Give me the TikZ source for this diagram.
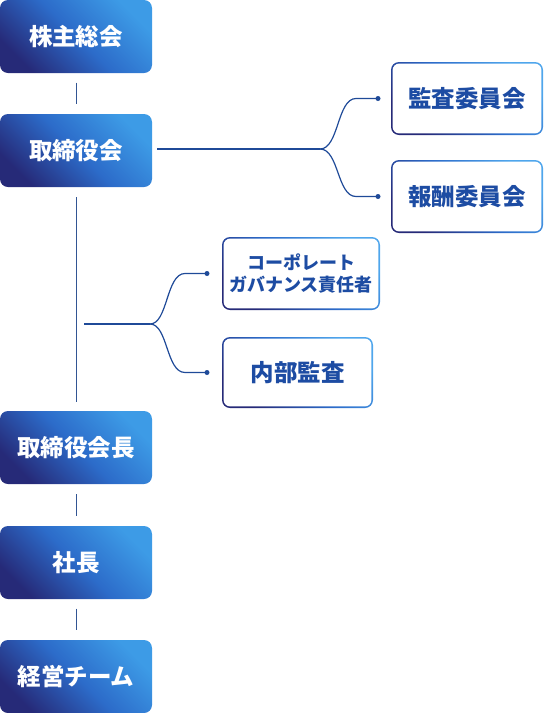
\documentclass[tikz,border=0pt]{standalone}
\usepackage{fontspec}
\newfontfamily\jp{Noto Sans CJK JP}
\definecolor{navy}{HTML}{262A78}
\definecolor{midblue}{HTML}{2C6BC9}
\definecolor{bright}{HTML}{3D9BE6}
\definecolor{lightb}{HTML}{4FA6EC}
\definecolor{linec}{HTML}{1F4A98}
\definecolor{txtb}{HTML}{1D4CA3}
\begin{document}
\begin{tikzpicture}[x=1pt,y=-1pt,
  lbox/.style={rounded corners=8pt, minimum width=152pt, minimum height=73pt,
    inner sep=0pt, left color=navy, right color=bright, middle color=midblue,
    shading angle=135, text=white, font=\jp\bfseries\fontsize{23.5}{26}\selectfont},
  rbox/.style={rounded corners=8pt, minimum height=73pt, inner sep=0pt,
    text=txtb, align=center, font=\jp\bfseries\fontsize{23.5}{26}\selectfont,
    path picture={
      \shade[left color=navy, right color=lightb, middle color=midblue, shading angle=135]
        (path picture bounding box.south west) rectangle (path picture bounding box.north east);
      \fill[white, rounded corners=6.5pt]
        ([shift={(1.6pt,-1.6pt)}]path picture bounding box.north west) rectangle
        ([shift={(-1.6pt,1.6pt)}]path picture bounding box.south east);}},
  conn/.style={draw=linec, line width=1.2pt},
  vconn/.style={draw=linec!80!gray, line width=1pt},
  dotc/.style={circle, fill=linec, inner sep=0pt, minimum size=5pt}
]
\useasboundingbox (0,0) rectangle (544,713);
% left column
\node[lbox] (b1) at (76,36.5) {株主総会};
\node[lbox] (b2) at (76,150.5) {取締役会};
\node[lbox] (b3) at (76,447.5) {取締役会長};
\node[lbox] (b4) at (76,562.5) {社長};
\node[lbox] (b5) at (76,676.5) {経営チーム};
% right column
\node[rbox, minimum width=152pt] (k1) at (467,98.5) {監査委員会};
\node[rbox, minimum width=152pt] (k2) at (467,196.5) {報酬委員会};
% middle column
\node[rbox, minimum width=158pt, font=\jp\bfseries\fontsize{18}{22}\selectfont] (c1) at (301,273.5) {コーポレート\\ガバナンス責任者};
\node[rbox, minimum width=151pt, minimum height=71pt] (c2) at (297.5,372.5) {内部監査};
% vertical connectors
\draw[vconn, shorten <=9.5pt, shorten >=9.5pt] (b1.south) -- (b2.north);
\draw[vconn, shorten <=10pt, shorten >=9pt] (b2.south) -- (b3.north);
\draw[vconn, shorten <=10pt, shorten >=10pt] (b3.south) -- (b4.north);
\draw[vconn, shorten <=9.5pt, shorten >=10pt] (b4.south) -- (b5.north);
% branch to committees
\coordinate (br1) at (320,149);
\coordinate (e1) at (378,98.5);
\coordinate (e2) at (378,196.5);
\draw[conn, shorten <=5pt] (b2.east |- br1) -- (br1);
\draw[conn] (br1) .. controls (339,149) and (337,98.5) .. (356,98.5) -- (e1);
\draw[conn] (br1) .. controls (339,149) and (337,196.5) .. (356,196.5) -- (e2);
\node[dotc] (d1) at (e1) {};
\node[dotc] (d2) at (e2) {};
% branch to middle
\coordinate (m0) at (84,324);
\coordinate (br2) at (150,324);
\coordinate (e3) at (207,273.5);
\coordinate (e4) at (207,372.5);
\draw[conn] (m0) -- (br2);
\draw[conn] (br2) .. controls (168,324) and (166,273.5) .. (185,273.5) -- (e3);
\draw[conn] (br2) .. controls (168,324) and (166,372.5) .. (185,372.5) -- (e4);
\node[dotc] (d3) at (e3) {};
\node[dotc] (d4) at (e4) {};
\end{tikzpicture}
\end{document}
